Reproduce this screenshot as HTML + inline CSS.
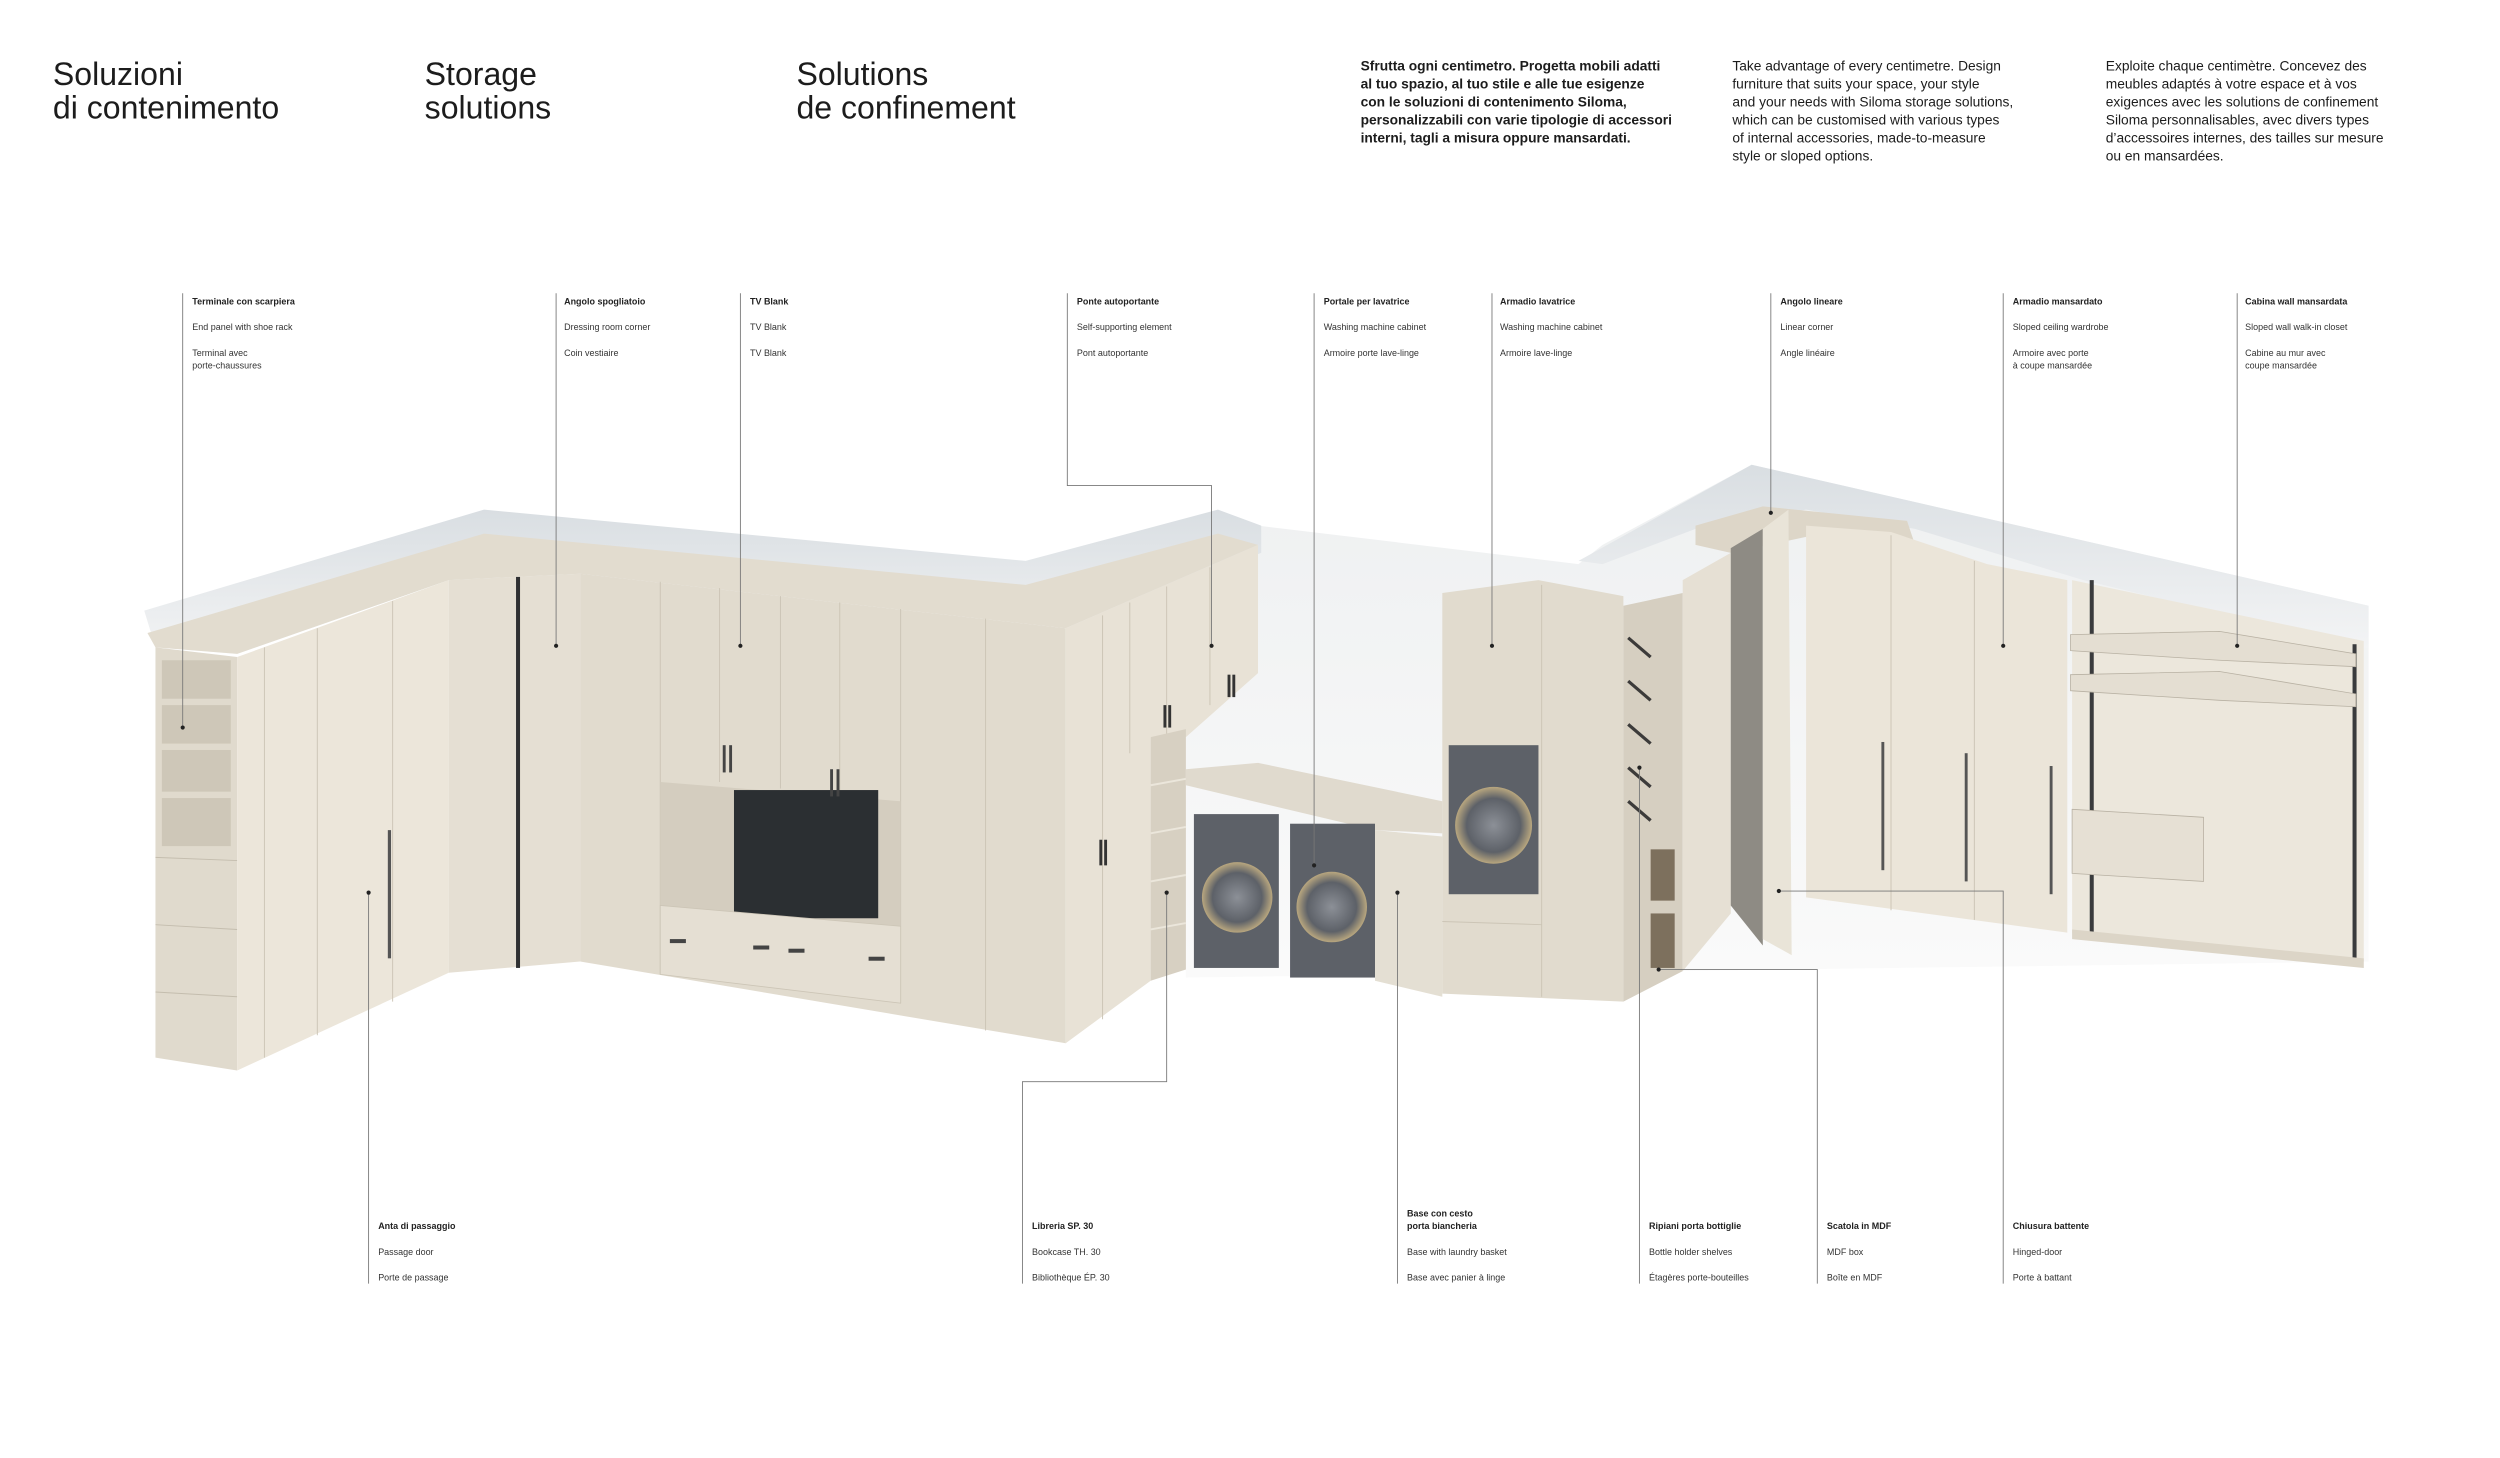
<!DOCTYPE html>
<html><head><meta charset="utf-8">
<style>
html,body{margin:0;padding:0;background:#fff;}
svg{display:block;}
text{font-family:"Liberation Sans",sans-serif;fill:#1c1c1c;}
.t{font-size:20px;}
.p{font-size:8.6px;}
.pb{font-size:8.6px;font-weight:bold;}
.l{font-size:5.6px;fill:#333;}
.lb{font-size:5.6px;fill:#222;font-weight:bold;}
.c{stroke:#777;stroke-width:0.55;fill:none;}
.d{fill:#222;}
</style></head><body>
<svg width="2500" height="1458" viewBox="0 0 1560 909.8" xmlns="http://www.w3.org/2000/svg">
<defs>
<linearGradient id="wall" x1="0" y1="0" x2="0" y2="1"><stop offset="0" stop-color="#d9dee2"/><stop offset="1" stop-color="#f3f4f5"/></linearGradient>
<linearGradient id="bw" x1="0" y1="0" x2="0" y2="1"><stop offset="0" stop-color="#eef0f1"/><stop offset="1" stop-color="#fafafa"/></linearGradient>
<radialGradient id="wm"><stop offset="0" stop-color="#8c9097"/><stop offset="0.7" stop-color="#5d6168"/><stop offset="1" stop-color="#b9a77f"/></radialGradient>
</defs>
<rect width="1560" height="910" fill="#fff"/>

<!-- headings -->
<text class="t" x="33" y="53">Soluzioni</text>
<text class="t" x="33" y="74">di contenimento</text>
<text class="t" x="265" y="53">Storage</text>
<text class="t" x="265" y="74">solutions</text>
<text class="t" x="497" y="53">Solutions</text>
<text class="t" x="497" y="74">de confinement</text>

<g class="pb">
<text x="849" y="44">Sfrutta ogni centimetro. Progetta mobili adatti</text>
<text x="849" y="55.2">al tuo spazio, al tuo stile e alle tue esigenze</text>
<text x="849" y="66.4">con le soluzioni di contenimento Siloma,</text>
<text x="849" y="77.6">personalizzabili con varie tipologie di accessori</text>
<text x="849" y="88.8">interni, tagli a misura oppure mansardati.</text>
</g>
<g class="p">
<text x="1081" y="44">Take advantage of every centimetre. Design</text>
<text x="1081" y="55.2">furniture that suits your space, your style</text>
<text x="1081" y="66.4">and your needs with Siloma storage solutions,</text>
<text x="1081" y="77.6">which can be customised with various types</text>
<text x="1081" y="88.8">of internal accessories, made-to-measure</text>
<text x="1081" y="100">style or sloped options.</text>
<text x="1314" y="44">Exploite chaque centimètre. Concevez des</text>
<text x="1314" y="55.2">meubles adaptés à votre espace et à vos</text>
<text x="1314" y="66.4">exigences avec les solutions de confinement</text>
<text x="1314" y="77.6">Siloma personnalisables, avec divers types</text>
<text x="1314" y="88.8">d’accessoires internes, des tailles sur mesure</text>
<text x="1314" y="100">ou en mansardées.</text>
</g>

<!-- back wall -->
<polygon points="740,345 785,328 985,352 1000,340 1093,290 1478,378 1478,600 740,610" fill="url(#bw)"/>
<!-- wall bands -->
<polygon points="90,381 302,318 640,350 760,318 787,328 787,345 665,392 362,358 280,362 148,408 97,404" fill="url(#wall)"/>
<polygon points="985,350 1093,290 1478,378 1478,405 1300,362 1195,330 1127,318 1058,330 1000,352" fill="url(#wall)"/>
<polygon points="92,395 302,333 640,365 760,333 785,340 665,392 362,358 280,362 148,408 97,404" fill="#e2dccf"/>

<!-- terminal shoe rack -->
<polygon points="97,404 148,410 148,668 97,660" fill="#e0dacd"/>
<g fill="#cec7b8">
<rect x="101" y="412" width="43" height="24"/><rect x="101" y="440" width="43" height="24"/>
<rect x="101" y="468" width="43" height="26"/><rect x="101" y="498" width="43" height="30"/>
</g>
<g stroke="#c4bdae" stroke-width="0.6"><line x1="97" y1="535" x2="148" y2="537"/><line x1="97" y1="577" x2="148" y2="580"/><line x1="97" y1="619" x2="148" y2="622"/></g>

<!-- left wardrobe -->
<polygon points="148,410 280,362 280,607 148,668" fill="#ece6da"/>
<g stroke="#cdc6b7" stroke-width="0.6"><line x1="165" y1="404" x2="165" y2="660"/><line x1="198" y1="392" x2="198" y2="646"/><line x1="245" y1="375" x2="245" y2="625"/></g>
<rect x="242" y="518" width="2" height="80" fill="#555"/>
<!-- corner -->
<polygon points="280,362 362,358 362,600 280,607" fill="#e5dfd3"/>
<rect x="322" y="360" width="2.5" height="244" fill="#2f3032"/>
<!-- center -->
<polygon points="362,358 665,392 665,651 362,600" fill="#e1dbce"/>
<g stroke="#ccc5b6" stroke-width="0.6">
<line x1="412" y1="363" x2="412" y2="608"/><line x1="449" y1="367" x2="449" y2="488"/><line x1="487" y1="372" x2="487" y2="492"/><line x1="524" y1="376" x2="524" y2="496"/><line x1="562" y1="380" x2="562" y2="626"/><line x1="615" y1="386" x2="615" y2="643"/></g>
<polygon points="412,488 562,500 562,615 412,598" fill="#d4cdbf"/>
<rect x="458" y="493" width="90" height="80" fill="#2b2f32"/>
<polygon points="412,565 562,578 562,626 412,608" fill="#e5dfd3" stroke="#ccc5b6" stroke-width="0.5"/>
<g fill="#444"><rect x="418" y="586" width="10" height="2.5"/><rect x="470" y="590" width="10" height="2.5"/><rect x="492" y="592" width="10" height="2.5"/><rect x="542" y="597" width="10" height="2.5"/>
<rect x="451" y="465" width="1.8" height="17"/><rect x="455" y="465" width="1.8" height="17"/><rect x="518" y="480" width="1.8" height="17"/><rect x="522" y="480" width="1.8" height="17"/></g>
<!-- ponte -->
<polygon points="665,392 785,340 785,420 740,460 718,460 718,612 665,651" fill="#e8e2d6"/>
<g stroke="#ccc5b6" stroke-width="0.6"><line x1="688" y1="384" x2="688" y2="636"/><line x1="705" y1="376" x2="705" y2="470"/><line x1="728" y1="366" x2="728" y2="458"/><line x1="755" y1="354" x2="755" y2="440"/></g>
<g fill="#333"><rect x="686" y="524" width="1.8" height="16"/><rect x="689" y="524" width="1.8" height="16"/><rect x="726" y="440" width="1.8" height="14"/><rect x="729" y="440" width="1.8" height="14"/><rect x="766" y="421" width="1.8" height="14"/><rect x="769" y="421" width="1.8" height="14"/></g>
<polygon points="718,460 740,455 740,605 718,612" fill="#d7d0c2"/>
<g stroke="#ebe6db" stroke-width="1.2"><line x1="718" y1="490" x2="740" y2="486"/><line x1="718" y1="520" x2="740" y2="516"/><line x1="718" y1="550" x2="740" y2="546"/><line x1="718" y1="580" x2="740" y2="576"/></g>
<!-- laundry counter -->
<polygon points="740,480 785,476 900,500 900,520 858,518 740,490" fill="#e0dace"/>
<rect x="745" y="508" width="53" height="96" fill="#5d6168"/>
<circle cx="772" cy="560" r="22" fill="url(#wm)"/>
<rect x="805" y="514" width="53" height="96" fill="#5d6168"/>
<circle cx="831" cy="566" r="22" fill="url(#wm)"/>
<polygon points="858,518 900,522 900,622 858,612" fill="#e4dfd3"/>
<!-- armadio lavatrice -->
<polygon points="900,370 960,362 1013,372 1013,625 900,620" fill="#e1dbce"/>
<line x1="962" y1="365" x2="962" y2="622" stroke="#ccc5b6" stroke-width="0.6"/>
<rect x="904" y="465" width="56" height="93" fill="#5d6168"/>
<circle cx="932" cy="515" r="24" fill="url(#wm)"/>
<line x1="900" y1="575" x2="962" y2="577" stroke="#ccc5b6" stroke-width="0.6"/>
<!-- bottle column -->
<polygon points="1013,378 1050,370 1050,606 1013,625" fill="#d6cfc1"/>
<g stroke="#3c3b3a" stroke-width="2"><line x1="1016" y1="398" x2="1030" y2="410"/><line x1="1016" y1="425" x2="1030" y2="437"/><line x1="1016" y1="452" x2="1030" y2="464"/><line x1="1016" y1="479" x2="1030" y2="491"/><line x1="1016" y1="500" x2="1030" y2="512"/></g>
<rect x="1030" y="530" width="15" height="32" fill="#7d705d"/><rect x="1030" y="570" width="15" height="34" fill="#7d705d"/>
<polygon points="1050,362 1080,345 1080,570 1050,606" fill="#e6e0d4"/>
<!-- top steps -->
<polygon points="1058,328 1100,316 1190,325 1195,340 1127,335 1080,345 1058,340" fill="#ddd6c8"/>
<!-- open door -->
<polygon points="1080,342 1100,330 1100,590 1080,565" fill="#8e8b84"/>
<polygon points="1100,330 1116,318 1118,596 1100,586" fill="#e9e4d8"/>
<!-- right wardrobes -->
<polygon points="1127,328 1180,332 1240,352 1290,362 1290,582 1127,560" fill="#ebe5d9"/>
<g stroke="#ccc5b6" stroke-width="0.6"><line x1="1180" y1="334" x2="1180" y2="568"/><line x1="1232" y1="350" x2="1232" y2="574"/></g>
<g fill="#555"><rect x="1174" y="463" width="1.8" height="80"/><rect x="1226" y="470" width="1.8" height="80"/><rect x="1279" y="478" width="1.8" height="80"/></g>
<!-- walk-in -->
<polygon points="1293,362 1475,400 1475,600 1293,582" fill="#ece7dc"/>
<rect x="1304" y="362" width="2.5" height="222" fill="#3a3b3d"/>
<rect x="1468" y="402" width="2.5" height="196" fill="#3a3b3d"/>
<polygon points="1292,396 1385,394 1470,408 1470,416 1385,412 1292,406" fill="#e4ded2" stroke="#b8b1a3" stroke-width="0.5"/>
<polygon points="1292,421 1385,419 1470,433 1470,441 1385,437 1292,431" fill="#e4ded2" stroke="#b8b1a3" stroke-width="0.5"/>
<polygon points="1293,505 1375,510 1375,550 1293,545" fill="#e6e0d4" stroke="#b8b1a3" stroke-width="0.5"/>
<polygon points="1293,580 1475,598 1475,604 1293,586" fill="#dcd5c7"/>

<!-- connectors -->
<g class="c">
<polyline points="114,183 114,454"/>
<polyline points="347,183 347,403"/>
<polyline points="462,183 462,403"/>
<polyline points="666,183 666,303 756,303 756,403"/>
<polyline points="820,183 820,540"/>
<polyline points="931,183 931,403"/>
<polyline points="1105,183 1105,320"/>
<polyline points="1250,183 1250,403"/>
<polyline points="1396,183 1396,403"/>
<polyline points="230,557 230,801"/>
<polyline points="728,557 728,675 638,675 638,801"/>
<polyline points="872,557 872,801"/>
<polyline points="1023,479 1023,801"/>
<polyline points="1035,605 1134,605 1134,801"/>
<polyline points="1110,556 1250,556 1250,801"/>
</g>
<g class="d">
<circle cx="114" cy="454" r="1.3"/><circle cx="347" cy="403" r="1.3"/><circle cx="462" cy="403" r="1.3"/><circle cx="756" cy="403" r="1.3"/><circle cx="820" cy="540" r="1.3"/><circle cx="931" cy="403" r="1.3"/><circle cx="1105" cy="320" r="1.3"/><circle cx="1250" cy="403" r="1.3"/><circle cx="1396" cy="403" r="1.3"/><circle cx="230" cy="557" r="1.3"/><circle cx="728" cy="557" r="1.3"/><circle cx="872" cy="557" r="1.3"/><circle cx="1023" cy="479" r="1.3"/><circle cx="1035" cy="605" r="1.3"/><circle cx="1110" cy="556" r="1.3"/>
</g>

<!-- top labels -->
<text class="lb" x="120" y="190">Terminale con scarpiera</text><text class="l" x="120" y="206">End panel with shoe rack</text><text class="l" x="120" y="222">Terminal avec</text><text class="l" x="120" y="230">porte-chaussures</text>
<text class="lb" x="352" y="190">Angolo spogliatoio</text><text class="l" x="352" y="206">Dressing room corner</text><text class="l" x="352" y="222">Coin vestiaire</text>
<text class="lb" x="468" y="190">TV Blank</text><text class="l" x="468" y="206">TV Blank</text><text class="l" x="468" y="222">TV Blank</text>
<text class="lb" x="672" y="190">Ponte autoportante</text><text class="l" x="672" y="206">Self-supporting element</text><text class="l" x="672" y="222">Pont autoportante</text>
<text class="lb" x="826" y="190">Portale per lavatrice</text><text class="l" x="826" y="206">Washing machine cabinet</text><text class="l" x="826" y="222">Armoire porte lave-linge</text>
<text class="lb" x="936" y="190">Armadio lavatrice</text><text class="l" x="936" y="206">Washing machine cabinet</text><text class="l" x="936" y="222">Armoire lave-linge</text>
<text class="lb" x="1111" y="190">Angolo lineare</text><text class="l" x="1111" y="206">Linear corner</text><text class="l" x="1111" y="222">Angle linéaire</text>
<text class="lb" x="1256" y="190">Armadio mansardato</text><text class="l" x="1256" y="206">Sloped ceiling wardrobe</text><text class="l" x="1256" y="222">Armoire avec porte</text><text class="l" x="1256" y="230">à coupe mansardée</text>
<text class="lb" x="1401" y="190">Cabina wall mansardata</text><text class="l" x="1401" y="206">Sloped wall walk-in closet</text><text class="l" x="1401" y="222">Cabine au mur avec</text><text class="l" x="1401" y="230">coupe mansardée</text>

<!-- bottom labels -->
<text class="lb" x="236" y="767">Anta di passaggio</text><text class="l" x="236" y="783">Passage door</text><text class="l" x="236" y="799">Porte de passage</text>
<text class="lb" x="644" y="767">Libreria SP. 30</text><text class="l" x="644" y="783">Bookcase TH. 30</text><text class="l" x="644" y="799">Bibliothèque ÉP. 30</text>
<text class="lb" x="878" y="759">Base con cesto</text><text class="lb" x="878" y="767">porta biancheria</text><text class="l" x="878" y="783">Base with laundry basket</text><text class="l" x="878" y="799">Base avec panier à linge</text>
<text class="lb" x="1029" y="767">Ripiani porta bottiglie</text><text class="l" x="1029" y="783">Bottle holder shelves</text><text class="l" x="1029" y="799">Étagères porte-bouteilles</text>
<text class="lb" x="1140" y="767">Scatola in MDF</text><text class="l" x="1140" y="783">MDF box</text><text class="l" x="1140" y="799">Boîte en MDF</text>
<text class="lb" x="1256" y="767">Chiusura battente</text><text class="l" x="1256" y="783">Hinged-door</text><text class="l" x="1256" y="799">Porte à battant</text>
</svg>
</body></html>
